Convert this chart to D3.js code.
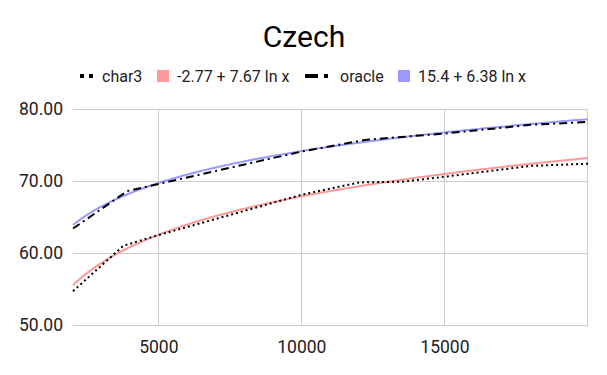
<!DOCTYPE html>
<html>
<head>
<meta charset="utf-8">
<script src="https://cdn.jsdelivr.net/npm/d3@7/dist/d3.min.js"></script>
<style>
  body { margin: 0; background: #fff; }
  svg { display: block; }
</style>
</head>
<body>
<div id="chart"></div>
<script>

/* Data */
var char3X = [2000, 3760, 5000, 10000, 12000, 13500, 15000, 18000, 20000],
    char3Y = [54.7, 61.0, 62.5, 68.1, 69.8, 69.9, 70.6, 72.1, 72.4];
var oracleX = [2000, 3900, 5000, 8000, 10000, 12200, 15000, 18000, 20000],
    oracleY = [63.4, 68.6, 69.6, 72.3, 74.1, 75.7, 76.6, 77.8, 78.2];

/* Log trendlines, coefficients as printed in the legend: a + b ln x */
var char3Trend = [-2.77, 7.67],
    oracleTrend = [15.4, 6.38];

var yTicks = [50, 60, 70, 80],
    xTicks = [5000, 10000, 15000, 20000],
    xLabels = ["5000", "10000", "15000", ""];

var legendNames = ["char3", "-2.77 + 7.67 ln x", "oracle", "15.4 + 6.38 ln x"];

/* Overall SVG container */
var width = 607,
    height = 375,
    fontFamily = "Roboto, Arial, sans-serif";

var margin = { top: 109, left: 73, right: 19, bottom: 50 },
    plotW = width - margin.left - margin.right,
    plotH = height - margin.top - margin.bottom;

var svg = d3.select("#chart")
    .append("svg")
    .attr("width", width)
    .attr("height", height);

svg.append("rect")
    .attr("width", width)
    .attr("height", height)
    .attr("fill", "#fff");

var x = d3.scaleLinear().domain([2000, 20000]).range([0, plotW]);
var y = d3.scaleLinear().domain([50, 80]).range([plotH, 0]);

var g = svg.append("g")
    .attr("transform", "translate(" + margin.left + "," + margin.top + ")");

/* Grid lines */
g.selectAll(".hgrid")
    .data(yTicks)
    .enter().append("line")
    .attr("x1", 0)
    .attr("x2", plotW)
    .attr("y1", function(d) { return Math.round(y(d)) + 0.5; })
    .attr("y2", function(d) { return Math.round(y(d)) + 0.5; })
    .attr("stroke", "#cccccc")
    .attr("stroke-width", 1);

g.selectAll(".vgrid")
    .data(xTicks)
    .enter().append("line")
    .attr("x1", function(d) { return Math.round(x(d)) - 0.5; })
    .attr("x2", function(d) { return Math.round(x(d)) - 0.5; })
    .attr("y1", 0)
    .attr("y2", plotH)
    .attr("stroke", "#cccccc")
    .attr("stroke-width", 1);

/* Axis labels */
g.selectAll(".ylab")
    .data(yTicks)
    .enter().append("text")
    .attr("x", -10)
    .attr("y", function(d) { return y(d); })
    .attr("dy", "0.35em")
    .attr("text-anchor", "end")
    .attr("font-family", fontFamily)
    .attr("font-size", 17.5)
    .attr("fill", "#222")
    .text(function(d) { return d3.format(".2f")(d); });

g.selectAll(".xlab")
    .data(xTicks)
    .enter().append("text")
    .attr("x", function(d) { return x(d); })
    .attr("y", plotH + 28)
    .attr("text-anchor", "middle")
    .attr("font-family", fontFamily)
    .attr("font-size", 17.5)
    .attr("fill", "#222")
    .text(function(d, i) { return xLabels[i]; });

/* Trendlines sampled along x */
var samples = d3.range(2000, 20001, 100);

function trend(c) {
    return samples.map(function(v) { return [v, c[0] + c[1] * Math.log(v)]; });
}

var line = d3.line()
    .x(function(d) { return x(d[0]); })
    .y(function(d) { return y(d[1]); });

g.append("path")
    .datum(trend(char3Trend))
    .attr("d", line)
    .attr("fill", "none")
    .attr("stroke", "#ff9999")
    .attr("stroke-width", 2);

g.append("path")
    .datum(trend(oracleTrend))
    .attr("d", line)
    .attr("fill", "none")
    .attr("stroke", "#9999ff")
    .attr("stroke-width", 2);

/* Series */
g.append("path")
    .datum(d3.zip(char3X, char3Y))
    .attr("d", line)
    .attr("fill", "none")
    .attr("stroke", "#000")
    .attr("stroke-width", 2)
    .attr("stroke-dasharray", "2,3");

g.append("path")
    .datum(d3.zip(oracleX, oracleY))
    .attr("d", line)
    .attr("fill", "none")
    .attr("stroke", "#000")
    .attr("stroke-width", 2)
    .attr("stroke-dasharray", "8,4,2,4");

/* Title */
svg.append("text")
    .attr("x", 304)
    .attr("y", 47)
    .attr("text-anchor", "middle")
    .attr("font-family", fontFamily)
    .attr("font-size", 30)
    .attr("fill", "#000")
    .text("Czech");

/* Legend */
var legend = svg.append("g").attr("transform", "translate(0,76)");
var textX = [102, 177, 340, 418];

// char3 marker: two dots
legend.append("line")
    .attr("x1", 80).attr("x2", 94)
    .attr("y1", 0).attr("y2", 0)
    .attr("stroke", "#000")
    .attr("stroke-width", 4)
    .attr("stroke-dasharray", "4,5");

legend.append("rect")
    .attr("x", 157).attr("y", -6)
    .attr("width", 12).attr("height", 12)
    .attr("fill", "#ff9999");

// oracle marker: dash and dot
legend.append("line")
    .attr("x1", 305).attr("x2", 329)
    .attr("y1", 0).attr("y2", 0)
    .attr("stroke", "#000")
    .attr("stroke-width", 4)
    .attr("stroke-dasharray", "13,6,4,10");

legend.append("rect")
    .attr("x", 398).attr("y", -6)
    .attr("width", 12).attr("height", 12)
    .attr("fill", "#9999ff");

legend.selectAll(".ltext")
    .data(legendNames)
    .enter().append("text")
    .attr("x", function(d, i) { return textX[i]; })
    .attr("y", 0)
    .attr("dy", "0.35em")
    .attr("font-family", fontFamily)
    .attr("font-size", 16)
    .attr("fill", "#222")
    .text(function(d) { return d; });

</script>
</body>
</html>
